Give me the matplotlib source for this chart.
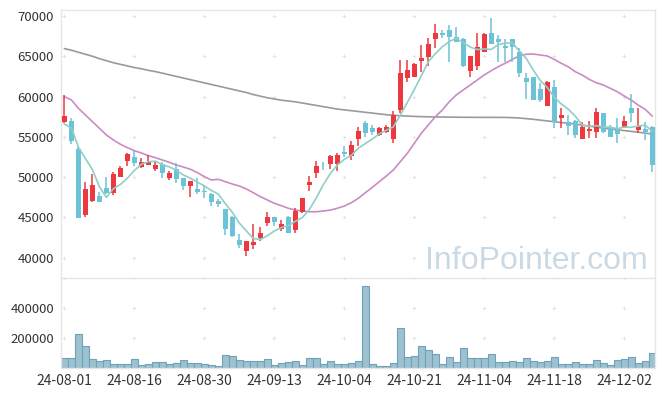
import matplotlib.pyplot as plt
import numpy as np
import pandas as pd

# ticks every 10 trading days
tick_pos = [0, 10, 20, 30, 40, 50, 60, 70, 80]
tick_labels = ['24-08-01', '24-08-16', '24-08-30', '24-09-13', '24-10-04',
               '24-10-21', '24-11-04', '24-11-18', '24-12-02']

opens = [56880, 56970, 53500, 45300, 47080, 47660, 48620, 48070, 50050, 52040,
         52460, 51300, 51550, 51010, 51600, 49860, 50980, 49860, 48940, 48530,
         48320, 47910, 47080, 46050, 45060, 42200, 40870, 41580, 42450, 44350,
         45060, 43570, 45060, 43440, 45720, 49030, 50560, 51420, 51630, 51630,
         53080, 52670, 54700, 56760, 56100, 55270, 55640, 54740, 58330, 62340,
         62470, 64450, 64870, 67110, 67850, 68260, 67350, 67110, 63220, 63830,
         65570, 67850, 67150, 66310, 67110, 65500, 62270, 62390, 60940, 58870,
         61150, 57380, 56850, 56970, 54770, 55730, 55640, 58000, 56260, 55850,
         56140, 58620, 55850, 55980, 56260]
highs = [60200, 57300, 53780, 49440, 50360, 48200, 50060, 50680, 51380, 52950,
         53280, 52330, 52710, 51880, 51840, 50730, 51720, 49900, 49520, 49930,
         48900, 48000, 47300, 46100, 45150, 42910, 42080, 44150, 43770, 45640,
         45100, 44690, 45190, 46140, 47380, 50140, 52040, 51920, 52750, 52950,
         53870, 54520, 56260, 56970, 56470, 56260, 56470, 58250, 64540, 64540,
         64200, 66400, 67230, 69010, 68260, 68880, 68670, 67230, 65040, 67850,
         67930, 69710, 67640, 67110, 67110, 65990, 62890, 62470, 61650, 61970,
         62060, 58540, 57710, 57100, 56880, 56970, 58540, 58000, 56470, 57300,
         57590, 60320, 58620, 56880, 56390]
lows = [56700, 54080, 44890, 45100, 46950, 46880, 47910, 47750, 49980, 51420,
        51420, 51100, 51550, 50800, 49930, 49650, 49240, 48410, 47580, 47870,
        47380, 46420, 46260, 42820, 42620, 41170, 40250, 41080, 42120, 43980,
        43980, 43360, 43030, 43030, 45600, 48280, 49930, 50890, 51010, 50800,
        52540, 52130, 53870, 55020, 55230, 55110, 55440, 54280, 57920, 61770,
        62470, 63090, 63800, 65990, 67230, 64250, 66810, 63710, 62470, 63300,
        65570, 66490, 64250, 64250, 64330, 62470, 59660, 59580, 59290, 58870,
        56060, 56140, 55230, 54820, 54770, 54820, 54820, 55520, 54940, 54200,
        56140, 56810, 55440, 54610, 50600]
closes = [57590, 54520, 44970, 48530, 49030, 46950, 48000, 50390, 51170, 52870,
          51790, 51840, 51920, 51510, 50560, 50560, 49770, 48940, 49520, 48120,
          48200, 46950, 46670, 43600, 42700, 41580, 42080, 41950, 43030, 45060,
          44470, 44190, 43110, 45800, 47380, 49440, 51420, 51340, 52630, 52750,
          52870, 53990, 55730, 55520, 55560, 56060, 56260, 57710, 62960, 63300,
          64080, 64830, 66490, 67850, 67640, 67350, 66810, 63830, 65040, 66120,
          67760, 66490, 66810, 66070, 66120, 62890, 61850, 59580, 59580, 61770,
          56810, 57710, 56390, 55230, 56260, 55980, 58120, 55640, 55020, 55320,
          56970, 58000, 56390, 55600, 51510]
volumes = [71000, 71000, 225000, 151000, 65000, 47000, 53000, 31000, 31000, 31000,
           65000, 25000, 31000, 45000, 45000, 31000, 38000, 58000, 38000, 38000,
           31000, 25000, 18000, 91000, 85000, 58000, 51000, 51000, 51000, 65000,
           25000, 38000, 45000, 51000, 25000, 71000, 71000, 31000, 51000, 31000,
           31000, 38000, 51000, 547000, 31000, 18000, 18000, 38000, 271000, 78000,
           85000, 151000, 120000, 98000, 31000, 78000, 45000, 138000, 71000, 71000,
           71000, 98000, 45000, 45000, 51000, 45000, 71000, 51000, 45000, 51000,
           78000, 31000, 31000, 45000, 31000, 31000, 58000, 38000, 25000, 58000,
           65000, 78000, 38000, 51000, 105000]

# 5-day MA needs closes before the window: first four
ma5_head = [56600, 56100, 53700, 52300]
ma20 = [59990, 59570, 58540, 57710, 56880, 56060, 55230, 54610, 54080, 53660,
        53280, 53000, 52660, 52420, 52130, 51840, 51510, 51260, 50980, 50560,
        50060, 49650, 49730, 49440, 49150, 48900, 48530, 48070, 47580, 47170,
        46760, 46460, 46140, 45920, 45820, 45710, 45710, 45800, 45920, 46140,
        46420, 46830, 47380, 48070, 48740, 49440, 50140, 50890, 51920, 52950,
        54200, 55440, 56470, 57500, 58330, 59360, 60200, 60820, 61440, 62060,
        62680, 63210, 63710, 64130, 64620, 65040, 65250, 65280, 65160, 65040,
        64620, 64130, 63700, 63090, 62680, 62140, 61720, 61440, 61030, 60610,
        60070, 59570, 58950, 58420, 57590]
ma120 = [65950, 65750, 65500, 65250, 65000, 64700, 64450, 64200, 64000, 63800,
         63600, 63450, 63250, 63100, 62900, 62700, 62500, 62300, 62100, 61900,
         61700, 61500, 61300, 61100, 60900, 60700, 60500, 60250, 60050, 59850,
         59700, 59550, 59450, 59350, 59200, 59050, 58900, 58750, 58600, 58450,
         58350, 58250, 58150, 58050, 57950, 57850, 57750, 57680, 57620, 57580,
         57540, 57510, 57490, 57470, 57460, 57450, 57440, 57430, 57430, 57420,
         57420, 57420, 57420, 57410, 57390, 57340, 57260, 57180, 57080, 56980,
         56880, 56780, 56700, 56600, 56450, 56330, 56200, 56080, 55980, 55880,
         55780, 55680, 55580, 55470, 55350]

x = np.arange(len(closes))
o = np.array(opens)
c = np.array(closes)
ma5 = pd.Series(c).rolling(5).mean().to_numpy()
ma5[:4] = ma5_head

up = c >= o
colors = np.where(up, '#ec383e', '#6cc2d6')

fig = plt.figure(figsize=(6.65, 3.96), dpi=100)
ax = fig.add_axes([0.0917, 0.298, 0.8932, 0.6768])
axv = fig.add_axes([0.0917, 0.0699, 0.8932, 0.2281], sharex=ax)

font = 'Noto Sans CJK KR'

# price panel
ax.vlines(x, lows, highs, colors=colors, linewidth=1.1, zorder=3)
body = np.maximum(np.abs(c - o), 90)
ax.bar(x, body, bottom=np.minimum(o, c), width=0.72, color=colors, zorder=4)
ax.plot(x, ma120, color='#9a9a9a', lw=1.2, zorder=2)
ax.plot(x, ma20, color='#cc8ac4', lw=1.2, zorder=2)
ax.plot(x, ma5, color='#8fcfc6', lw=1.2, zorder=5)

ax.text(0.988, 0.035, 'InfoPointer.com', transform=ax.transAxes, ha='right',
        va='baseline', fontsize=23, family='Liberation Sans', color='#cbd9e4',
        zorder=1)

price_ticks = [40000, 45000, 50000, 55000, 60000, 65000, 70000]
ax.set_ylim(37490, 70745)
ax.set_yticks(price_ticks)
gx, gy = np.meshgrid(tick_pos, price_ticks)
ax.scatter(gx.ravel(), gy.ravel(), marker='+', s=9, color='#e4e4e4', lw=0.7, zorder=0)

# volume panel
axv.bar(x, volumes, width=1.0, color='#9dc1d1', edgecolor='#6ea2b8', linewidth=0.8)
axv.set_ylim(0, 600000)
axv.set_yticks([200000, 400000])
gx, gy = np.meshgrid(tick_pos, [200000, 400000, 600000])
axv.scatter(gx.ravel(), gy.ravel(), marker='+', s=9, color='#e4e4e4', lw=0.7, zorder=0)

axv.set_xlim(-0.5, 84.4)
axv.set_xticks(tick_pos)
axv.set_xticklabels(tick_labels)

for a in (ax, axv):
    for s in a.spines.values():
        s.set_color('#e6e6e6')
        s.set_linewidth(1)
    a.tick_params(length=0, labelsize=9.5, labelcolor='#333333', pad=5)
    for lab in a.get_xticklabels() + a.get_yticklabels():
        lab.set_family(font)
plt.setp(ax.get_xticklabels(), visible=False)
axv.tick_params(axis='x', pad=4, labelsize=10)

fig.savefig('out.png', dpi=100)
